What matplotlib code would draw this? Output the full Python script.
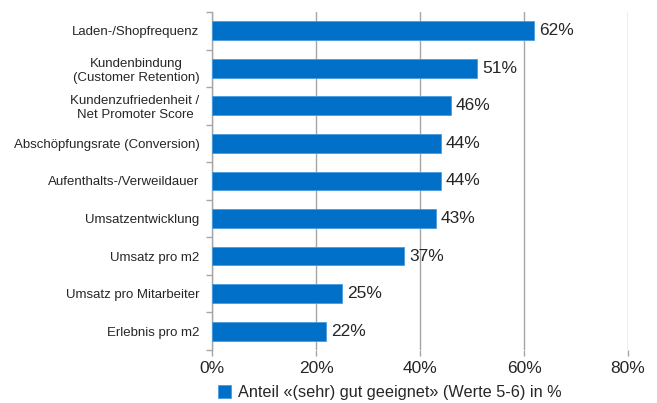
import matplotlib.pyplot as plt
import numpy as np

plt.rcParams['font.family'] = ['Liberation Sans', 'DejaVu Sans']

# Data
categories = [
    "Laden-/Shopfrequenz",
    "Kundenbindung\n(Customer Retention)",
    "Kundenzufriedenheit /\nNet Promoter Score",
    "Abschöpfungsrate (Conversion)",
    "Aufenthalts-/Verweildauer",
    "Umsatzentwicklung",
    "Umsatz pro m2",
    "Umsatz pro Mitarbeiter",
    "Erlebnis pro m2",
]
values = [62, 51, 46, 44, 44, 43, 37, 25, 22]
series_name = "Anteil «(sehr) gut geeignet» (Werte 5-6) in %"
xticks = [0, 20, 40, 60, 80]

bar_color = "#0070C8"
text_color = "#262626"
grid_color = "#A6A6A6"

fig = plt.figure(figsize=(6.57, 4.03), dpi=100)
ax = fig.add_axes([0.3227, 0.1315, 0.6332, 0.8388])

y = np.arange(len(categories))
bars = ax.barh(y, values, height=0.5, color=bar_color, edgecolor="#4A9BE0",
               linewidth=0.6, label=series_name, zorder=3)

for yi, v in zip(y, values):
    ax.text(v + 0.9, yi, f"{v}%", va="center", ha="left",
            fontsize=12.5, color=text_color)

ax.set_xlim(0, 80)
ax.set_ylim(len(categories) - 0.5, -0.5)
ax.set_xticks(xticks)
ax.set_xticklabels([f"{t}%" for t in xticks], fontsize=12.5, color=text_color)
ax.set_yticks(y)
ax.set_yticklabels(categories, fontsize=9.5, color=text_color, multialignment="center")
ax.set_yticks(np.arange(-0.5, len(categories)), minor=True)

ax.tick_params(axis="y", which="major", length=0, pad=9)
ax.tick_params(axis="y", which="minor", length=4, color=grid_color, width=1)
ax.tick_params(axis="x", length=4, color=grid_color, width=1, pad=4)

ax.grid(axis="x", color=grid_color, linewidth=1, zorder=0)
for side in ["top", "right", "bottom"]:
    ax.spines[side].set_visible(False)
ax.spines["left"].set_color(grid_color)
ax.spines["left"].set_linewidth(1)

fig.legend(handles=[bars], labels=[series_name], loc="center",
           bbox_to_anchor=(0.593, 0.026), frameon=False, fontsize=11.7,
           handlelength=0.8, handleheight=0.8, handletextpad=0.4,
           labelcolor=text_color)

fig.savefig("out.png", dpi=100)
